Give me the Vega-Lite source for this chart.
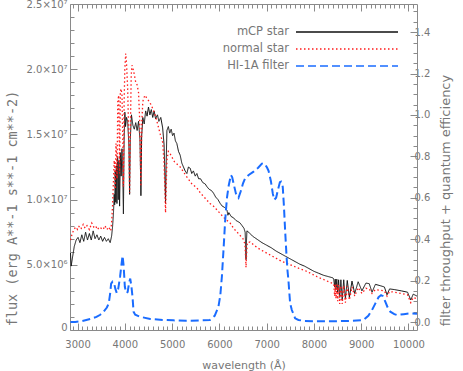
{
  "$schema": "https://vega.github.io/schema/vega-lite/v6.json",
  "autosize": {"type": "none"},
  "padding": {"left": 70, "top": 4, "right": 46, "bottom": 41},
  "width": 347,
  "height": 326,
  "background": "white",
  "config": {
    "view": {"stroke": null},
    "font": "DejaVu Sans",
    "axis": {"domainColor": "#8a8a8a", "tickColor": "#8a8a8a", "labelColor": "#777777", "titleColor": "#777777", "labelFontSize": 10, "titleFontSize": 11, "titleFontWeight": "normal", "grid": false, "labelFlush": false, "labelOverlap": false}
  },
  "datasets": {
    "mcp": [
      {"series":"mCP star","wavelength":2850,"value":5.9e6},{"series":"mCP star","wavelength":2865,"value":4.9e6},{"series":"mCP star","wavelength":2890,"value":5.5e6},{"series":"mCP star","wavelength":2930,"value":6.4e6},{"series":"mCP star","wavelength":2970,"value":6.9e6},{"series":"mCP star","wavelength":3010,"value":7.1e6},{"series":"mCP star","wavelength":3050,"value":6.7e6},{"series":"mCP star","wavelength":3090,"value":7.3e6},{"series":"mCP star","wavelength":3130,"value":6.8e6},{"series":"mCP star","wavelength":3170,"value":7.5e6},{"series":"mCP star","wavelength":3210,"value":6.9e6},{"series":"mCP star","wavelength":3250,"value":7.4e6},{"series":"mCP star","wavelength":3290,"value":6.9e6},{"series":"mCP star","wavelength":3330,"value":7.6e6},{"series":"mCP star","wavelength":3370,"value":7.0e6},{"series":"mCP star","wavelength":3410,"value":7.3e6},{"series":"mCP star","wavelength":3450,"value":6.9e6},{"series":"mCP star","wavelength":3490,"value":7.2e6},{"series":"mCP star","wavelength":3530,"value":6.8e6},{"series":"mCP star","wavelength":3570,"value":7.1e6},{"series":"mCP star","wavelength":3610,"value":6.8e6},{"series":"mCP star","wavelength":3650,"value":7.0e6},{"series":"mCP star","wavelength":3690,"value":6.7e6},{"series":"mCP star","wavelength":3720,"value":7.2e6},{"series":"mCP star","wavelength":3740,"value":7.9e6},{"series":"mCP star","wavelength":3760,"value":9.0e6},{"series":"mCP star","wavelength":3775,"value":10.4e6},{"series":"mCP star","wavelength":3785,"value":9.6e6},{"series":"mCP star","wavelength":3797,"value":12.2e6},{"series":"mCP star","wavelength":3808,"value":9.8e6},{"series":"mCP star","wavelength":3820,"value":12.6e6},{"series":"mCP star","wavelength":3833,"value":9.7e6},{"series":"mCP star","wavelength":3848,"value":13.3e6},{"series":"mCP star","wavelength":3862,"value":10.0e6},{"series":"mCP star","wavelength":3876,"value":13.0e6},{"series":"mCP star","wavelength":3889,"value":9.5e6},{"series":"mCP star","wavelength":3905,"value":13.6e6},{"series":"mCP star","wavelength":3922,"value":11.8e6},{"series":"mCP star","wavelength":3940,"value":13.9e6},{"series":"mCP star","wavelength":3955,"value":12.2e6},{"series":"mCP star","wavelength":3970,"value":8.9e6},{"series":"mCP star","wavelength":3985,"value":14.5e6},{"series":"mCP star","wavelength":4000,"value":16.7e6},{"series":"mCP star","wavelength":4015,"value":15.6e6},{"series":"mCP star","wavelength":4035,"value":16.3e6},{"series":"mCP star","wavelength":4060,"value":16.0e6},{"series":"mCP star","wavelength":4085,"value":14.2e6},{"series":"mCP star","wavelength":4101,"value":10.4e6},{"series":"mCP star","wavelength":4115,"value":14.6e6},{"series":"mCP star","wavelength":4140,"value":16.5e6},{"series":"mCP star","wavelength":4170,"value":15.7e6},{"series":"mCP star","wavelength":4200,"value":15.4e6},{"series":"mCP star","wavelength":4230,"value":15.9e6},{"series":"mCP star","wavelength":4260,"value":15.3e6},{"series":"mCP star","wavelength":4290,"value":16.0e6},{"series":"mCP star","wavelength":4320,"value":14.6e6},{"series":"mCP star","wavelength":4340,"value":10.3e6},{"series":"mCP star","wavelength":4355,"value":14.8e6},{"series":"mCP star","wavelength":4380,"value":16.3e6},{"series":"mCP star","wavelength":4410,"value":15.8e6},{"series":"mCP star","wavelength":4440,"value":16.8e6},{"series":"mCP star","wavelength":4470,"value":16.4e6},{"series":"mCP star","wavelength":4500,"value":17.1e6},{"series":"mCP star","wavelength":4530,"value":16.5e6},{"series":"mCP star","wavelength":4560,"value":16.9e6},{"series":"mCP star","wavelength":4590,"value":16.3e6},{"series":"mCP star","wavelength":4620,"value":16.8e6},{"series":"mCP star","wavelength":4650,"value":16.2e6},{"series":"mCP star","wavelength":4690,"value":16.5e6},{"series":"mCP star","wavelength":4720,"value":16.0e6},{"series":"mCP star","wavelength":4760,"value":16.3e6},{"series":"mCP star","wavelength":4800,"value":15.5e6},{"series":"mCP star","wavelength":4830,"value":14.2e6},{"series":"mCP star","wavelength":4848,"value":11.8e6},{"series":"mCP star","wavelength":4861,"value":9.7e6},{"series":"mCP star","wavelength":4873,"value":12.6e6},{"series":"mCP star","wavelength":4890,"value":15.3e6},{"series":"mCP star","wavelength":4920,"value":15.6e6},{"series":"mCP star","wavelength":4950,"value":15.1e6},{"series":"mCP star","wavelength":4980,"value":15.4e6},{"series":"mCP star","wavelength":5010,"value":14.9e6},{"series":"mCP star","wavelength":5040,"value":15.1e6},{"series":"mCP star","wavelength":5070,"value":14.5e6},{"series":"mCP star","wavelength":5100,"value":14.3e6},{"series":"mCP star","wavelength":5135,"value":13.7e6},{"series":"mCP star","wavelength":5171,"value":13.4e6},{"series":"mCP star","wavelength":5205,"value":12.8e6},{"series":"mCP star","wavelength":5240,"value":12.5e6},{"series":"mCP star","wavelength":5275,"value":12.2e6},{"series":"mCP star","wavelength":5312,"value":12.0e6},{"series":"mCP star","wavelength":5345,"value":12.5e6},{"series":"mCP star","wavelength":5383,"value":12.4e6},{"series":"mCP star","wavelength":5415,"value":12.0e6},{"series":"mCP star","wavelength":5450,"value":12.2e6},{"series":"mCP star","wavelength":5490,"value":11.8e6},{"series":"mCP star","wavelength":5524,"value":12.0e6},{"series":"mCP star","wavelength":5560,"value":11.6e6},{"series":"mCP star","wavelength":5600,"value":11.6e6},{"series":"mCP star","wavelength":5650,"value":11.3e6},{"series":"mCP star","wavelength":5700,"value":11.2e6},{"series":"mCP star","wavelength":5735,"value":11.0e6},{"series":"mCP star","wavelength":5780,"value":10.8e6},{"series":"mCP star","wavelength":5830,"value":10.7e6},{"series":"mCP star","wavelength":5875,"value":10.5e6},{"series":"mCP star","wavelength":5920,"value":10.2e6},{"series":"mCP star","wavelength":5970,"value":10.0e6},{"series":"mCP star","wavelength":6018,"value":9.7e6},{"series":"mCP star","wavelength":6060,"value":9.5e6},{"series":"mCP star","wavelength":6110,"value":9.4e6},{"series":"mCP star","wavelength":6160,"value":9.2e6},{"series":"mCP star","wavelength":6180,"value":8.8e6},{"series":"mCP star","wavelength":6200,"value":9.0e6},{"series":"mCP star","wavelength":6250,"value":8.7e6},{"series":"mCP star","wavelength":6300,"value":8.6e6},{"series":"mCP star","wavelength":6350,"value":8.4e6},{"series":"mCP star","wavelength":6400,"value":8.3e6},{"series":"mCP star","wavelength":6440,"value":8.2e6},{"series":"mCP star","wavelength":6480,"value":8.0e6},{"series":"mCP star","wavelength":6520,"value":7.8e6},{"series":"mCP star","wavelength":6545,"value":7.5e6},{"series":"mCP star","wavelength":6556,"value":6.4e6},{"series":"mCP star","wavelength":6563,"value":5.4e6},{"series":"mCP star","wavelength":6570,"value":6.5e6},{"series":"mCP star","wavelength":6582,"value":7.6e6},{"series":"mCP star","wavelength":6620,"value":7.5e6},{"series":"mCP star","wavelength":6700,"value":7.2e6},{"series":"mCP star","wavelength":6800,"value":6.95e6},{"series":"mCP star","wavelength":6900,"value":6.7e6},{"series":"mCP star","wavelength":7000,"value":6.5e6},{"series":"mCP star","wavelength":7100,"value":6.3e6},{"series":"mCP star","wavelength":7200,"value":6.05e6},{"series":"mCP star","wavelength":7300,"value":5.85e6},{"series":"mCP star","wavelength":7400,"value":5.65e6},{"series":"mCP star","wavelength":7500,"value":5.45e6},{"series":"mCP star","wavelength":7600,"value":5.25e6},{"series":"mCP star","wavelength":7700,"value":5.05e6},{"series":"mCP star","wavelength":7800,"value":4.9e6},{"series":"mCP star","wavelength":7900,"value":4.7e6},{"series":"mCP star","wavelength":8000,"value":4.5e6},{"series":"mCP star","wavelength":8100,"value":4.35e6},{"series":"mCP star","wavelength":8200,"value":4.2e6},{"series":"mCP star","wavelength":8300,"value":4.1e6},{"series":"mCP star","wavelength":8400,"value":4.0e6},{"series":"mCP star","wavelength":8420,"value":3.9e6},{"series":"mCP star","wavelength":8438,"value":3.3e6},{"series":"mCP star","wavelength":8452,"value":3.9e6},{"series":"mCP star","wavelength":8467,"value":3.1e6},{"series":"mCP star","wavelength":8484,"value":3.9e6},{"series":"mCP star","wavelength":8502,"value":2.9e6},{"series":"mCP star","wavelength":8522,"value":3.85e6},{"series":"mCP star","wavelength":8545,"value":2.5e6},{"series":"mCP star","wavelength":8570,"value":3.85e6},{"series":"mCP star","wavelength":8598,"value":2.3e6},{"series":"mCP star","wavelength":8630,"value":3.85e6},{"series":"mCP star","wavelength":8665,"value":2.4e6},{"series":"mCP star","wavelength":8705,"value":3.8e6},{"series":"mCP star","wavelength":8750,"value":2.5e6},{"series":"mCP star","wavelength":8805,"value":3.75e6},{"series":"mCP star","wavelength":8863,"value":2.8e6},{"series":"mCP star","wavelength":8935,"value":3.7e6},{"series":"mCP star","wavelength":9015,"value":3.0e6},{"series":"mCP star","wavelength":9100,"value":3.6e6},{"series":"mCP star","wavelength":9170,"value":3.55e6},{"series":"mCP star","wavelength":9229,"value":2.9e6},{"series":"mCP star","wavelength":9300,"value":3.5e6},{"series":"mCP star","wavelength":9400,"value":3.4e6},{"series":"mCP star","wavelength":9490,"value":3.3e6},{"series":"mCP star","wavelength":9546,"value":2.7e6},{"series":"mCP star","wavelength":9600,"value":3.15e6},{"series":"mCP star","wavelength":9700,"value":3.1e6},{"series":"mCP star","wavelength":9850,"value":3.0e6},{"series":"mCP star","wavelength":9980,"value":2.9e6},{"series":"mCP star","wavelength":10049,"value":2.3e6},{"series":"mCP star","wavelength":10100,"value":2.75e6},{"series":"mCP star","wavelength":10180,"value":2.6e6}
    ],
    "normal": [
      {"series":"normal star","wavelength":2850,"value":6.9e6},{"series":"normal star","wavelength":2880,"value":7.3e6},{"series":"normal star","wavelength":2920,"value":7.7e6},{"series":"normal star","wavelength":2960,"value":7.9e6},{"series":"normal star","wavelength":3000,"value":7.7e6},{"series":"normal star","wavelength":3040,"value":8.0e6},{"series":"normal star","wavelength":3080,"value":7.8e6},{"series":"normal star","wavelength":3120,"value":8.1e6},{"series":"normal star","wavelength":3160,"value":7.8e6},{"series":"normal star","wavelength":3200,"value":8.0e6},{"series":"normal star","wavelength":3250,"value":7.7e6},{"series":"normal star","wavelength":3300,"value":8.2e6},{"series":"normal star","wavelength":3340,"value":7.9e6},{"series":"normal star","wavelength":3380,"value":8.0e6},{"series":"normal star","wavelength":3420,"value":7.7e6},{"series":"normal star","wavelength":3460,"value":7.9e6},{"series":"normal star","wavelength":3500,"value":7.8e6},{"series":"normal star","wavelength":3540,"value":7.7e6},{"series":"normal star","wavelength":3580,"value":8.0e6},{"series":"normal star","wavelength":3620,"value":7.7e6},{"series":"normal star","wavelength":3660,"value":7.9e6},{"series":"normal star","wavelength":3700,"value":7.6e6},{"series":"normal star","wavelength":3720,"value":8.2e6},{"series":"normal star","wavelength":3740,"value":9.5e6},{"series":"normal star","wavelength":3760,"value":11.5e6},{"series":"normal star","wavelength":3775,"value":13.0e6},{"series":"normal star","wavelength":3787,"value":12.4e6},{"series":"normal star","wavelength":3798,"value":10.8e6},{"series":"normal star","wavelength":3812,"value":14.3e6},{"series":"normal star","wavelength":3825,"value":13.5e6},{"series":"normal star","wavelength":3835,"value":11.6e6},{"series":"normal star","wavelength":3850,"value":17.5e6},{"series":"normal star","wavelength":3870,"value":18.0e6},{"series":"normal star","wavelength":3889,"value":12.0e6},{"series":"normal star","wavelength":3905,"value":18.3e6},{"series":"normal star","wavelength":3922,"value":18.5e6},{"series":"normal star","wavelength":3940,"value":18.0e6},{"series":"normal star","wavelength":3955,"value":15.0e6},{"series":"normal star","wavelength":3970,"value":11.0e6},{"series":"normal star","wavelength":3985,"value":17.5e6},{"series":"normal star","wavelength":4000,"value":20.0e6},{"series":"normal star","wavelength":4018,"value":21.2e6},{"series":"normal star","wavelength":4035,"value":20.5e6},{"series":"normal star","wavelength":4060,"value":18.5e6},{"series":"normal star","wavelength":4085,"value":14.5e6},{"series":"normal star","wavelength":4101,"value":10.5e6},{"series":"normal star","wavelength":4115,"value":15.0e6},{"series":"normal star","wavelength":4135,"value":19.5e6},{"series":"normal star","wavelength":4150,"value":20.3e6},{"series":"normal star","wavelength":4175,"value":20.0e6},{"series":"normal star","wavelength":4200,"value":19.6e6},{"series":"normal star","wavelength":4230,"value":19.0e6},{"series":"normal star","wavelength":4260,"value":18.8e6},{"series":"normal star","wavelength":4290,"value":18.2e6},{"series":"normal star","wavelength":4315,"value":16.0e6},{"series":"normal star","wavelength":4340,"value":11.0e6},{"series":"normal star","wavelength":4360,"value":16.0e6},{"series":"normal star","wavelength":4380,"value":17.5e6},{"series":"normal star","wavelength":4400,"value":17.8e6},{"series":"normal star","wavelength":4430,"value":18.0e6},{"series":"normal star","wavelength":4460,"value":17.8e6},{"series":"normal star","wavelength":4500,"value":17.6e6},{"series":"normal star","wavelength":4550,"value":17.3e6},{"series":"normal star","wavelength":4600,"value":16.9e6},{"series":"normal star","wavelength":4650,"value":16.4e6},{"series":"normal star","wavelength":4700,"value":15.7e6},{"series":"normal star","wavelength":4750,"value":15.0e6},{"series":"normal star","wavelength":4800,"value":14.4e6},{"series":"normal star","wavelength":4830,"value":12.8e6},{"series":"normal star","wavelength":4861,"value":9.0e6},{"series":"normal star","wavelength":4890,"value":13.0e6},{"series":"normal star","wavelength":4920,"value":13.7e6},{"series":"normal star","wavelength":4960,"value":13.5e6},{"series":"normal star","wavelength":5050,"value":12.9e6},{"series":"normal star","wavelength":5171,"value":12.5e6},{"series":"normal star","wavelength":5300,"value":11.8e6},{"series":"normal star","wavelength":5420,"value":11.2e6},{"series":"normal star","wavelength":5524,"value":10.9e6},{"series":"normal star","wavelength":5600,"value":10.5e6},{"series":"normal star","wavelength":5700,"value":10.1e6},{"series":"normal star","wavelength":5800,"value":9.7e6},{"series":"normal star","wavelength":5875,"value":9.5e6},{"series":"normal star","wavelength":6000,"value":9.0e6},{"series":"normal star","wavelength":6100,"value":8.6e6},{"series":"normal star","wavelength":6228,"value":8.2e6},{"series":"normal star","wavelength":6300,"value":7.8e6},{"series":"normal star","wavelength":6400,"value":7.4e6},{"series":"normal star","wavelength":6500,"value":7.0e6},{"series":"normal star","wavelength":6540,"value":6.6e6},{"series":"normal star","wavelength":6556,"value":5.5e6},{"series":"normal star","wavelength":6563,"value":4.8e6},{"series":"normal star","wavelength":6572,"value":5.6e6},{"series":"normal star","wavelength":6590,"value":6.7e6},{"series":"normal star","wavelength":6650,"value":6.75e6},{"series":"normal star","wavelength":6750,"value":6.45e6},{"series":"normal star","wavelength":6850,"value":6.2e6},{"series":"normal star","wavelength":7000,"value":5.9e6},{"series":"normal star","wavelength":7100,"value":5.7e6},{"series":"normal star","wavelength":7200,"value":5.5e6},{"series":"normal star","wavelength":7300,"value":5.3e6},{"series":"normal star","wavelength":7400,"value":5.15e6},{"series":"normal star","wavelength":7500,"value":5.0e6},{"series":"normal star","wavelength":7600,"value":4.85e6},{"series":"normal star","wavelength":7700,"value":4.7e6},{"series":"normal star","wavelength":7850,"value":4.5e6},{"series":"normal star","wavelength":7950,"value":4.3e6},{"series":"normal star","wavelength":8060,"value":4.1e6},{"series":"normal star","wavelength":8150,"value":3.95e6},{"series":"normal star","wavelength":8250,"value":3.8e6},{"series":"normal star","wavelength":8342,"value":3.65e6},{"series":"normal star","wavelength":8420,"value":3.55e6},{"series":"normal star","wavelength":8438,"value":2.6e6},{"series":"normal star","wavelength":8452,"value":3.5e6},{"series":"normal star","wavelength":8467,"value":2.4e6},{"series":"normal star","wavelength":8484,"value":3.5e6},{"series":"normal star","wavelength":8502,"value":2.2e6},{"series":"normal star","wavelength":8522,"value":3.45e6},{"series":"normal star","wavelength":8545,"value":2.0e6},{"series":"normal star","wavelength":8570,"value":3.4e6},{"series":"normal star","wavelength":8598,"value":2.0e6},{"series":"normal star","wavelength":8630,"value":3.4e6},{"series":"normal star","wavelength":8665,"value":2.1e6},{"series":"normal star","wavelength":8705,"value":3.35e6},{"series":"normal star","wavelength":8750,"value":2.3e6},{"series":"normal star","wavelength":8805,"value":3.3e6},{"series":"normal star","wavelength":8863,"value":2.6e6},{"series":"normal star","wavelength":8935,"value":3.25e6},{"series":"normal star","wavelength":9015,"value":2.8e6},{"series":"normal star","wavelength":9100,"value":3.2e6},{"series":"normal star","wavelength":9170,"value":3.15e6},{"series":"normal star","wavelength":9229,"value":2.8e6},{"series":"normal star","wavelength":9300,"value":3.1e6},{"series":"normal star","wavelength":9400,"value":3.05e6},{"series":"normal star","wavelength":9490,"value":3.0e6},{"series":"normal star","wavelength":9546,"value":2.6e6},{"series":"normal star","wavelength":9600,"value":2.95e6},{"series":"normal star","wavelength":9700,"value":2.9e6},{"series":"normal star","wavelength":9850,"value":2.8e6},{"series":"normal star","wavelength":9980,"value":2.7e6},{"series":"normal star","wavelength":10049,"value":2.1e6},{"series":"normal star","wavelength":10100,"value":2.5e6},{"series":"normal star","wavelength":10180,"value":2.4e6}
    ],
    "filter": [
      {"series":"HI-1A filter","wavelength":2850,"value":0.0},{"series":"HI-1A filter","wavelength":2950,"value":0.0},{"series":"HI-1A filter","wavelength":3100,"value":0.005},{"series":"HI-1A filter","wavelength":3270,"value":0.015},{"series":"HI-1A filter","wavelength":3400,"value":0.025},{"series":"HI-1A filter","wavelength":3480,"value":0.035},{"series":"HI-1A filter","wavelength":3550,"value":0.05},{"series":"HI-1A filter","wavelength":3620,"value":0.07},{"series":"HI-1A filter","wavelength":3660,"value":0.09},{"series":"HI-1A filter","wavelength":3690,"value":0.14},{"series":"HI-1A filter","wavelength":3710,"value":0.185},{"series":"HI-1A filter","wavelength":3740,"value":0.195},{"series":"HI-1A filter","wavelength":3770,"value":0.19},{"series":"HI-1A filter","wavelength":3800,"value":0.16},{"series":"HI-1A filter","wavelength":3830,"value":0.14},{"series":"HI-1A filter","wavelength":3860,"value":0.16},{"series":"HI-1A filter","wavelength":3900,"value":0.22},{"series":"HI-1A filter","wavelength":3930,"value":0.28},{"series":"HI-1A filter","wavelength":3952,"value":0.32},{"series":"HI-1A filter","wavelength":3975,"value":0.27},{"series":"HI-1A filter","wavelength":4000,"value":0.17},{"series":"HI-1A filter","wavelength":4030,"value":0.14},{"series":"HI-1A filter","wavelength":4060,"value":0.145},{"series":"HI-1A filter","wavelength":4090,"value":0.19},{"series":"HI-1A filter","wavelength":4114,"value":0.21},{"series":"HI-1A filter","wavelength":4140,"value":0.17},{"series":"HI-1A filter","wavelength":4163,"value":0.12},{"series":"HI-1A filter","wavelength":4184,"value":0.05},{"series":"HI-1A filter","wavelength":4220,"value":0.035},{"series":"HI-1A filter","wavelength":4326,"value":0.025},{"series":"HI-1A filter","wavelength":4537,"value":0.015},{"series":"HI-1A filter","wavelength":4800,"value":0.01},{"series":"HI-1A filter","wavelength":5024,"value":0.008},{"series":"HI-1A filter","wavelength":5300,"value":0.006},{"series":"HI-1A filter","wavelength":5600,"value":0.008},{"series":"HI-1A filter","wavelength":5800,"value":0.01},{"series":"HI-1A filter","wavelength":5900,"value":0.03},{"series":"HI-1A filter","wavelength":5980,"value":0.074},{"series":"HI-1A filter","wavelength":6020,"value":0.13},{"series":"HI-1A filter","wavelength":6053,"value":0.22},{"series":"HI-1A filter","wavelength":6090,"value":0.36},{"series":"HI-1A filter","wavelength":6122,"value":0.49},{"series":"HI-1A filter","wavelength":6160,"value":0.6},{"series":"HI-1A filter","wavelength":6193,"value":0.654},{"series":"HI-1A filter","wavelength":6243,"value":0.71},{"series":"HI-1A filter","wavelength":6270,"value":0.7},{"series":"HI-1A filter","wavelength":6299,"value":0.67},{"series":"HI-1A filter","wavelength":6350,"value":0.62},{"series":"HI-1A filter","wavelength":6405,"value":0.6},{"series":"HI-1A filter","wavelength":6450,"value":0.63},{"series":"HI-1A filter","wavelength":6500,"value":0.67},{"series":"HI-1A filter","wavelength":6545,"value":0.694},{"series":"HI-1A filter","wavelength":6620,"value":0.71},{"series":"HI-1A filter","wavelength":6723,"value":0.726},{"series":"HI-1A filter","wavelength":6820,"value":0.745},{"series":"HI-1A filter","wavelength":6900,"value":0.765},{"series":"HI-1A filter","wavelength":6934,"value":0.767},{"series":"HI-1A filter","wavelength":6970,"value":0.76},{"series":"HI-1A filter","wavelength":7010,"value":0.745},{"series":"HI-1A filter","wavelength":7040,"value":0.73},{"series":"HI-1A filter","wavelength":7090,"value":0.68},{"series":"HI-1A filter","wavelength":7130,"value":0.62},{"series":"HI-1A filter","wavelength":7160,"value":0.59},{"series":"HI-1A filter","wavelength":7200,"value":0.6},{"series":"HI-1A filter","wavelength":7240,"value":0.64},{"series":"HI-1A filter","wavelength":7280,"value":0.675},{"series":"HI-1A filter","wavelength":7305,"value":0.678},{"series":"HI-1A filter","wavelength":7340,"value":0.654},{"series":"HI-1A filter","wavelength":7365,"value":0.56},{"series":"HI-1A filter","wavelength":7391,"value":0.44},{"series":"HI-1A filter","wavelength":7420,"value":0.32},{"series":"HI-1A filter","wavelength":7440,"value":0.25},{"series":"HI-1A filter","wavelength":7461,"value":0.2},{"series":"HI-1A filter","wavelength":7496,"value":0.09},{"series":"HI-1A filter","wavelength":7532,"value":0.058},{"series":"HI-1A filter","wavelength":7602,"value":0.018},{"series":"HI-1A filter","wavelength":7672,"value":0.01},{"series":"HI-1A filter","wavelength":7800,"value":0.005},{"series":"HI-1A filter","wavelength":8000,"value":0.004},{"series":"HI-1A filter","wavelength":8400,"value":0.004},{"series":"HI-1A filter","wavelength":8765,"value":0.005},{"series":"HI-1A filter","wavelength":8900,"value":0.007},{"series":"HI-1A filter","wavelength":9052,"value":0.01},{"series":"HI-1A filter","wavelength":9150,"value":0.03},{"series":"HI-1A filter","wavelength":9229,"value":0.058},{"series":"HI-1A filter","wavelength":9300,"value":0.09},{"series":"HI-1A filter","wavelength":9367,"value":0.12},{"series":"HI-1A filter","wavelength":9420,"value":0.13},{"series":"HI-1A filter","wavelength":9460,"value":0.125},{"series":"HI-1A filter","wavelength":9509,"value":0.098},{"series":"HI-1A filter","wavelength":9560,"value":0.07},{"series":"HI-1A filter","wavelength":9615,"value":0.05},{"series":"HI-1A filter","wavelength":9700,"value":0.038},{"series":"HI-1A filter","wavelength":9756,"value":0.034},{"series":"HI-1A filter","wavelength":9900,"value":0.038},{"series":"HI-1A filter","wavelength":10036,"value":0.042},{"series":"HI-1A filter","wavelength":10180,"value":0.04}
    ]
  },
  "resolve": {"scale": {"y": "independent"}, "axis": {"x": "independent", "y": "independent"}},
  "layer": [
    {
      "data": {"name": "mcp"},
      "mark": {"type": "line", "clip": true, "strokeWidth": 1, "interpolate": "linear"},
      "encoding": {
        "x": {"field": "wavelength", "type": "quantitative", "scale": {"domain": [2840, 10180], "nice": false, "zero": false},
          "axis": {"orient": "bottom", "title": "wavelength (Å)", "format": "d",
            "values": [2900,3000,3100,3200,3300,3400,3500,3600,3700,3800,3900,4000,4100,4200,4300,4400,4500,4600,4700,4800,4900,5000,5100,5200,5300,5400,5500,5600,5700,5800,5900,6000,6100,6200,6300,6400,6500,6600,6700,6800,6900,7000,7100,7200,7300,7400,7500,7600,7700,7800,7900,8000,8100,8200,8300,8400,8500,8600,8700,8800,8900,9000,9100,9200,9300,9400,9500,9600,9700,9800,9900,10000,10100],
            "labelExpr": "datum.value % 1000 === 0 ? datum.label : ''",
            "tickSize": {"condition": {"test": "datum.value % 1000 === 0", "value": -7}, "value": -4},
            "labelPadding": 16, "titleFontSize": 11, "titleY": 35, "titleBaseline": "middle"}},
        "y": {"field": "value", "type": "quantitative", "scale": {"domain": [0, 25000000], "nice": false},
          "axis": {"orient": "left", "title": "flux (erg A**-1 s**-1 cm**-2)",
            "values": [0,1000000,2000000,3000000,4000000,5000000,6000000,7000000,8000000,9000000,10000000,11000000,12000000,13000000,14000000,15000000,16000000,17000000,18000000,19000000,20000000,21000000,22000000,23000000,24000000,25000000],
            "labelExpr": "datum.value === 0 ? '0' : (datum.value % 5000000 !== 0 ? '' : (datum.value < 10000000 ? format(datum.value/1000000, '.1f') + '×10⁶' : format(datum.value/10000000, '.1f') + '×10⁷'))",
            "tickSize": {"condition": {"test": "datum.value % 5000000 === 0", "value": -7}, "value": -4},
            "labelOffset": {"condition": {"test": "datum.value === 0", "value": -3}, "value": 0},
            "labelPadding": 10, "titleFont": "DejaVu Sans Mono", "titleFontSize": 13.5, "titleX": -58, "titleY": 204, "titleBaseline": "middle", "titleAngle": 270}},
        "color": {"field": "series", "type": "nominal", "scale": {"domain": ["mCP star", "normal star", "HI-1A filter"], "range": ["#111111", "#ff1a1a", "#1a6cff"]},
          "legend": {"orient": "none", "legendX": 271, "legendY": 22, "title": null, "symbolType": "M-10.2,0H10.2", "symbolSize": 100, "symbolStrokeWidth": 1.6, "symbolFillColor": "transparent", "labelAlign": "right", "labelOffset": -64, "labelFontSize": 11.5, "labelColor": "#777777", "rowPadding": 5}},
        "strokeDash": {"field": "series", "type": "nominal", "scale": {"domain": ["mCP star", "normal star", "HI-1A filter"], "range": [[1, 0], [1.5, 2.5], [8, 4]]},
          "legend": {"orient": "none", "legendX": 271, "legendY": 22, "title": null, "symbolType": "M-10.2,0H10.2", "symbolSize": 100, "symbolStrokeWidth": 1.6, "symbolFillColor": "transparent", "labelAlign": "right", "labelOffset": -64, "labelFontSize": 11.5, "labelColor": "#777777", "rowPadding": 5}}
      }
    },
    {
      "data": {"name": "normal"},
      "mark": {"type": "line", "clip": true, "strokeWidth": 1.3},
      "encoding": {
        "x": {"field": "wavelength", "type": "quantitative", "axis": null},
        "y": {"field": "value", "type": "quantitative", "scale": {"domain": [0, 25000000], "nice": false}, "axis": null},
        "color": {"field": "series", "type": "nominal"},
        "strokeDash": {"field": "series", "type": "nominal"}
      }
    },
    {
      "data": {"name": "filter"},
      "mark": {"type": "line", "clip": true, "strokeWidth": 2},
      "encoding": {
        "x": {"field": "wavelength", "type": "quantitative",
          "axis": {"orient": "top", "title": null, "labels": false,
            "values": [2900,3000,3100,3200,3300,3400,3500,3600,3700,3800,3900,4000,4100,4200,4300,4400,4500,4600,4700,4800,4900,5000,5100,5200,5300,5400,5500,5600,5700,5800,5900,6000,6100,6200,6300,6400,6500,6600,6700,6800,6900,7000,7100,7200,7300,7400,7500,7600,7700,7800,7900,8000,8100,8200,8300,8400,8500,8600,8700,8800,8900,9000,9100,9200,9300,9400,9500,9600,9700,9800,9900,10000,10100],
            "tickSize": {"condition": {"test": "datum.value % 1000 === 0", "value": -7}, "value": -4}}},
        "y": {"field": "value", "type": "quantitative", "scale": {"domain": [-0.0386, 1.536], "nice": false, "zero": false},
          "axis": {"orient": "right", "title": "filter throughput + quantum efficiency",
            "values": [0,0.05,0.1,0.15,0.2,0.25,0.3,0.35,0.4,0.45,0.5,0.55,0.6,0.65,0.7,0.75,0.8,0.85,0.9,0.95,1.0,1.05,1.1,1.15,1.2,1.25,1.3,1.35,1.4,1.45,1.5],
            "labelExpr": "abs(datum.value*5 - round(datum.value*5)) < 0.000001 ? format(datum.value, '.1f') : ''",
            "tickSize": {"condition": {"test": "abs(datum.value*5 - round(datum.value*5)) < 0.000001", "value": -7}, "value": -4},
            "labelPadding": 4, "titleFontSize": 13, "titleX": 28, "titleY": 196, "titleBaseline": "middle", "titleAngle": 270}},
        "color": {"field": "series", "type": "nominal"},
        "strokeDash": {"field": "series", "type": "nominal"}
      }
    }
  ]
}
